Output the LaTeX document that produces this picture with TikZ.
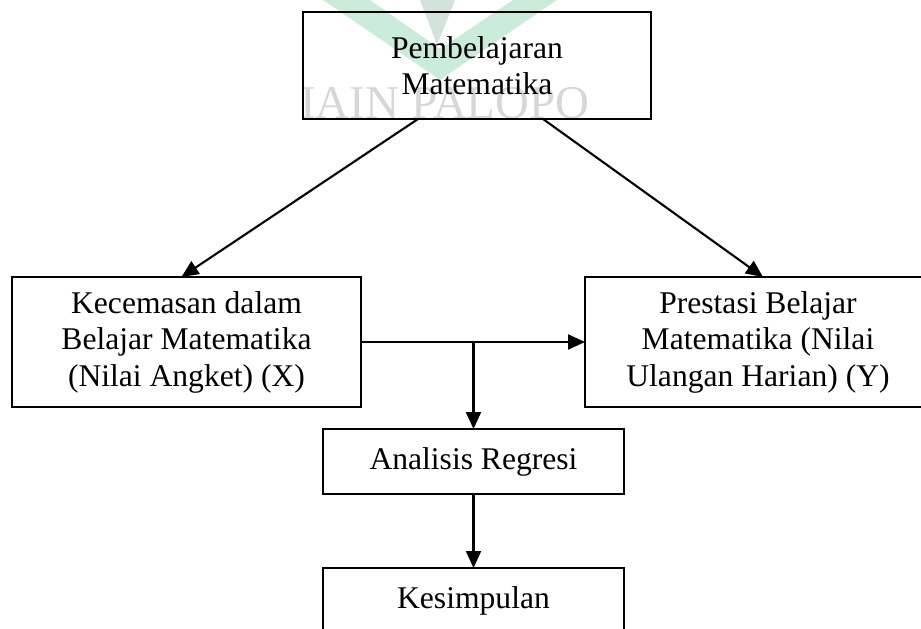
\documentclass[tikz,border=0pt]{standalone}
\usepackage{fontspec}
\setmainfont{Liberation Serif}
\usetikzlibrary{arrows.meta}
\usepackage{xcolor}
\definecolor{wmgreen}{RGB}{204,236,218}
\definecolor{wmgrey}{RGB}{214,216,215}
\definecolor{wmleaf}{RGB}{212,226,220}

\tikzset{
	kotak/.style={draw,line width=2.4pt,rectangle,inner sep=0pt,outer sep=0pt,
		align=center,font=\fontsize{31.6}{36.5}\selectfont},
	panah/.style={->,line width=2.1pt}
}

\begin{document}
\begin{tikzpicture}[x=1pt,y=-1pt,>={Triangle[length=17pt,width=15pt]}]
	\useasboundingbox (0,0) rectangle (921,629);
	% watermark
	\fill[wmgreen] (323,0)--(440,80)--(557,0)--(513,0)--(440,49)--(370,0)--cycle;
	\fill[wmleaf] (420,0)--(455,0)--(437,45)--cycle;
	\node[wmgrey,anchor=base,font=\fontsize{47}{50}\selectfont] (wm) at (445,118) {IAIN PALOPO};

	% kotak
	\node[kotak,minimum width=348pt,minimum height=107pt] (pem) at (477,65.5)
		{Pembelajaran\\Matematika};
	\node[kotak,minimum width=349pt,minimum height=130pt] (kec) at (186.5,342)
		{Kecemasan dalam\\Belajar Matematika\\(Nilai Angket) (X)};
	\node[kotak,minimum width=346pt,minimum height=130pt] (pres) at (758,342)
		{Prestasi Belajar\\Matematika (Nilai\\Ulangan Harian) (Y)};
	\node[kotak,minimum width=301pt,minimum height=65pt] (ana) at (473.5,461.5)
		{Analisis Regresi};
	\node[kotak,minimum width=301pt,minimum height=65pt] (kes) at (473.5,600.5)
		{Kesimpulan};

	% panah
	\draw[panah] ([xshift=-59pt]pem.south) -- ([xshift=-5pt]kec.north);
	\draw[panah] ([xshift=66pt]pem.south) -- ([xshift=5pt]pres.north);
	\coordinate (cab) at (kec.east -| ana.north);
	\draw[panah] (kec.east) -- (pres.west);
	\draw[panah] (cab) -- (ana.north);
	\draw[panah] (ana.south) -- (kes.north);
\end{tikzpicture}
\end{document}
